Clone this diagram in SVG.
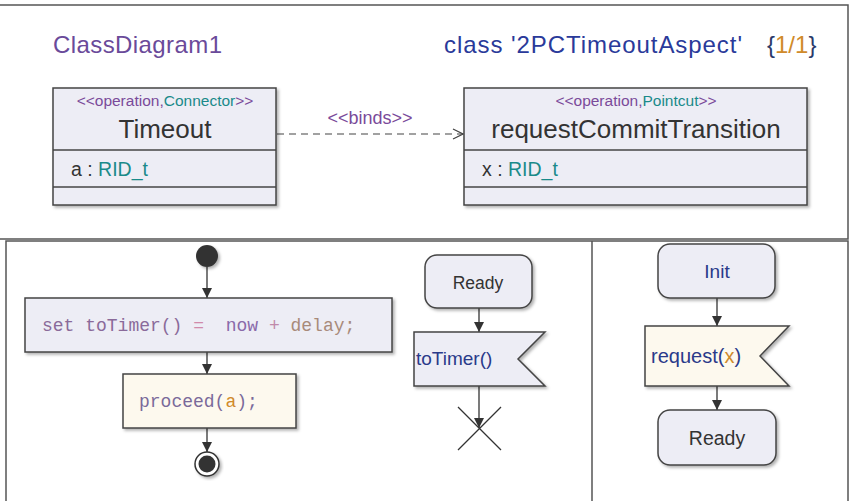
<svg xmlns="http://www.w3.org/2000/svg" width="851" height="501" viewBox="0 0 851 501">
<defs>
<marker id="tri" markerWidth="10" markerHeight="10" refX="10" refY="5" orient="auto" markerUnits="userSpaceOnUse"><path d="M0,0 L10,5 L0,10 Z" fill="#333"/></marker>
<marker id="open" markerWidth="12" markerHeight="12" refX="11" refY="6" orient="auto" markerUnits="userSpaceOnUse"><path d="M1,1 L11,6 L1,11" fill="none" stroke="#444" stroke-width="1.2"/></marker>
<filter id="sh" x="-10%" y="-10%" width="130%" height="130%"><feDropShadow dx="2" dy="2" stdDeviation="1.5" flood-color="#000" flood-opacity="0.3"/></filter>
</defs>
<style>
.frame{fill:none;stroke:#555;stroke-width:1.5}
.box{fill:#ededf5;stroke:#444;stroke-width:1.5;filter:url(#sh)}
.cream{fill:#fdf9ee;stroke:#444;stroke-width:1.5;filter:url(#sh)}
.sep{stroke:#444;stroke-width:1.5}
.sans{font-family:"Liberation Sans",Arial,sans-serif}
.mono{font-family:"Liberation Mono","Courier New",monospace;font-size:18px;fill:#7a6a9a;white-space:pre}
.pur{fill:#7a4a9a}
.teal{fill:#1a8a8a}
.dark{fill:#333}
.blue{fill:#2a3a8a}
.org{fill:#d08a2a}
.edge{stroke:#333;stroke-width:1.3;fill:none}
</style>
<g id="frames">
<path class="frame" d="M0,5 H848 V239 H0"/>
<path class="frame" d="M6,501 V241 H848 V501"/>
<line class="frame" x1="592" y1="241" x2="592" y2="501"/>
</g>
<g id="titles" class="sans">
<text x="53" y="53" font-size="24" fill="#6a4a9a" textLength="169">ClassDiagram1</text>
<text x="444" y="53" font-size="24" fill="#2a3a9a" textLength="298">class '2PCTimeoutAspect'</text>
<text x="767" y="53" font-size="24"><tspan fill="#2a3a6a">{</tspan><tspan class="org">1/1</tspan><tspan fill="#2a3a6a">}</tspan></text>
</g>
<g id="connectors">
<line x1="277" y1="134" x2="463" y2="134" stroke="#444" stroke-width="1.2" stroke-dasharray="7,5" marker-end="url(#open)"/>
<text x="370" y="124" text-anchor="middle" font-size="18" class="sans pur">&lt;&lt;binds&gt;&gt;</text>
<line class="edge" x1="207" y1="267" x2="207" y2="298" marker-end="url(#tri)"/>
<line class="edge" x1="207" y1="352" x2="207" y2="374" marker-end="url(#tri)"/>
<line class="edge" x1="207" y1="428" x2="207" y2="452" marker-end="url(#tri)"/>
<line class="edge" x1="479" y1="308" x2="479" y2="332" marker-end="url(#tri)"/>
<line class="edge" x1="479" y1="386" x2="479" y2="428" marker-end="url(#tri)"/>
<line class="edge" x1="717" y1="298" x2="717" y2="326" marker-end="url(#tri)"/>
<line class="edge" x1="717" y1="386" x2="717" y2="410" marker-end="url(#tri)"/>
</g>
<g id="Timeout">
<rect class="box" x="53" y="88" width="223" height="117"/>
<line class="sep" x1="53" y1="150" x2="276" y2="150"/>
<line class="sep" x1="53" y1="187" x2="276" y2="187"/>
<text x="165" y="106" text-anchor="middle" font-size="15.5" class="sans"><tspan class="pur">&lt;&lt;operation,</tspan><tspan class="teal">Connector</tspan><tspan class="pur">&gt;&gt;</tspan></text>
<text x="165" y="138" text-anchor="middle" font-size="26" class="sans dark">Timeout</text>
<text x="71" y="176" font-size="19.5" class="sans"><tspan class="dark">a : </tspan><tspan class="teal">RID_t</tspan></text>
</g>
<g id="requestCommitTransition">
<rect class="box" x="464" y="88" width="343" height="117"/>
<line class="sep" x1="464" y1="150" x2="807" y2="150"/>
<line class="sep" x1="464" y1="187" x2="807" y2="187"/>
<text x="636" y="106" text-anchor="middle" font-size="15.5" class="sans"><tspan class="pur">&lt;&lt;operation,</tspan><tspan class="teal">Pointcut</tspan><tspan class="pur">&gt;&gt;</tspan></text>
<text x="636" y="138" text-anchor="middle" font-size="26" class="sans dark">requestCommitTransition</text>
<text x="482" y="176" font-size="19.5" class="sans"><tspan class="dark">x : </tspan><tspan class="teal">RID_t</tspan></text>
</g>
<g id="initial">
<circle cx="207" cy="256" r="11" fill="#333" filter="url(#sh)"/>
</g>
<g id="setTimer">
<rect class="box" x="25" y="298" width="367" height="54"/>
<text x="42" y="331" class="mono" xml:space="preserve"><tspan fill="#8a6a9a">set toTimer() </tspan><tspan fill="#d08aaa">=</tspan><tspan>  </tspan><tspan fill="#8a6aaa">now </tspan><tspan fill="#c08aaa">+</tspan><tspan fill="#a88a7a"> delay;</tspan></text>
</g>
<g id="proceed">
<rect class="cream" x="123" y="374" width="173" height="54"/>
<text x="139" y="407" class="mono">proceed(<tspan class="org">a</tspan>);</text>
</g>
<g id="final">
<circle cx="207" cy="464" r="12" fill="#fff" stroke="#333" stroke-width="1.5" filter="url(#sh)"/>
<circle cx="207" cy="464" r="8.5" fill="#333"/>
</g>
<g id="ReadyLeft">
<rect class="box" x="425" y="255" width="107" height="53" rx="12"/>
<text x="478" y="289" text-anchor="middle" font-size="17.5" class="sans dark">Ready</text>
</g>
<g id="toTimerSignal">
<path class="box" d="M414,332 H545 L518,359 L545,386 H414 Z"/>
<text x="416" y="365" font-size="19" class="sans blue">toTimer()</text>
</g>
<g id="stop">
<path d="M458,407 L501,450 M501,407 L458,450" stroke="#333" stroke-width="1.3"/>
</g>
<g id="Init">
<rect class="box" x="658" y="244" width="117" height="54" rx="12"/>
<text x="717" y="278" text-anchor="middle" font-size="19" class="sans blue">Init</text>
</g>
<g id="requestSignal">
<path class="cream" d="M645,326 H789 L760,356 L789,386 H645 Z"/>
<text x="651" y="363" font-size="20" class="sans"><tspan class="blue">request(</tspan><tspan class="org">x</tspan><tspan class="blue">)</tspan></text>
</g>
<g id="ReadyRight">
<rect class="box" x="658" y="410" width="118" height="55" rx="12"/>
<text x="717" y="445" text-anchor="middle" font-size="19.5" class="sans dark">Ready</text>
</g>
</svg>
